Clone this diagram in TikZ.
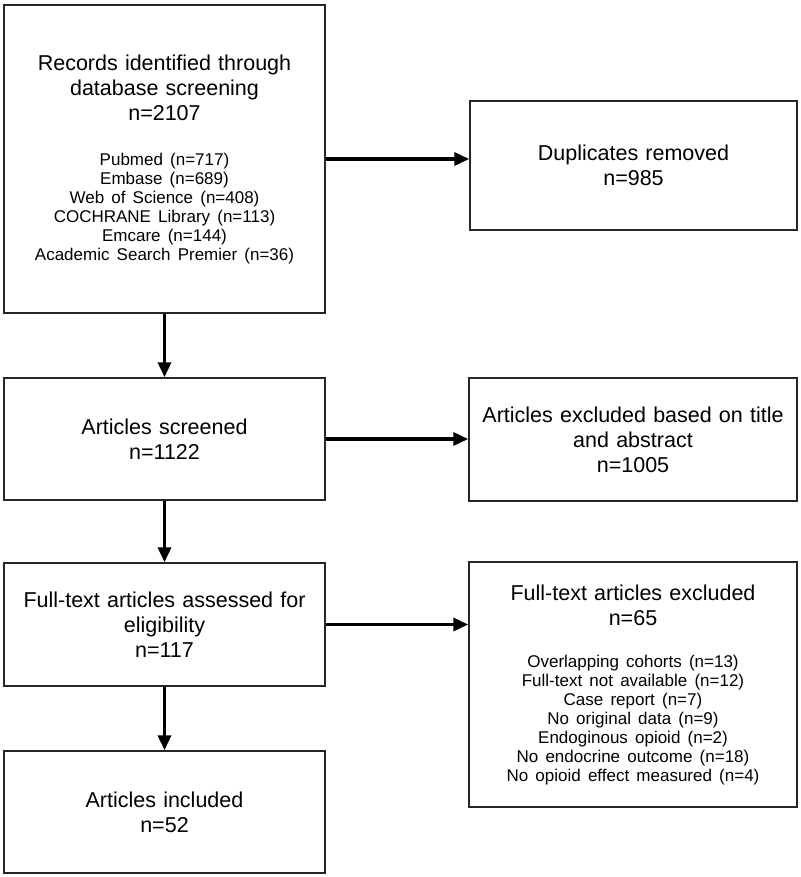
\documentclass[tikz,border=0pt]{standalone}
\usepackage{fontspec}
\setmainfont{Liberation Sans}
\usetikzlibrary{arrows.meta}
\newcommand\bigtxt{\fontsize{21.5}{25}\selectfont}
\newcommand\smalltxt{\fontsize{17}{19}\selectfont}
\begin{document}
\begin{tikzpicture}[x=1pt,y=-1pt]
\tikzstyle{every node}+=[inner sep=0pt]
\tikzstyle{box}=[draw=black!85, line width=1.5pt, align=center, text width=310pt, font=\bigtxt]
\tikzstyle{arr}=[line width=3.5pt, -{Triangle[length=15pt,width=13pt]}]
\useasboundingbox (0,0) rectangle (800,877);
% left column
\node [box, minimum width=321pt, minimum height=308pt] (records) at (164.5,159) {Records identified through\\database screening\\n=2107\par\vspace{26pt}\smalltxt Pubmed (n=717)\\Embase (n=689)\\Web of Science (n=408)\\COCHRANE Library (n=113)\\Emcare (n=144)\\Academic Search Premier (n=36)\par};
\node [box, minimum width=321pt, minimum height=122pt] (screened) at (164.5,439) {Articles screened\\n=1122};
\node [box, minimum width=321pt, minimum height=123pt] (assessed) at (164.5,624.5) {Full-text articles assessed for\\eligibility\\n=117};
\node [box, minimum width=321pt, minimum height=122pt] (included) at (164.5,812) {Articles included\\n=52};
% right column
\node [box, minimum width=327pt, minimum height=129pt] (dup) at (633.5,165.5) {Duplicates removed\\n=985};
\node [box, minimum width=328pt, minimum height=123pt] (excl1) at (633,439.5) {Articles excluded based on title\\and abstract\\n=1005};
\node [box, minimum width=328pt, minimum height=245pt] (excl2) at (633,684.5) {Full-text articles excluded\\n=65\par\vspace{23pt}\smalltxt Overlapping cohorts (n=13)\\Full-text not available (n=12)\\Case report (n=7)\\No original data (n=9)\\Endoginous opioid (n=2)\\No endocrine outcome (n=18)\\No opioid effect measured (n=4)\par};
% arrows
\draw [arr] (records) -- (screened);
\draw [arr] (screened) -- (assessed);
\draw [arr] (assessed) -- (included);
\draw [arr] (records.east) -- (records.east -| dup.west);
\draw [arr] (screened.east) -- (screened.east -| excl1.west);
\draw [arr] (assessed.east) -- (assessed.east -| excl2.west);
\end{tikzpicture}
\end{document}
